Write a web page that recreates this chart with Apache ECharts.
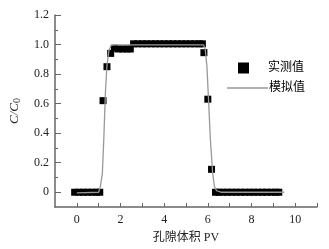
<!DOCTYPE html>
<html><head><meta charset="utf-8">
<script src="https://cdn.jsdelivr.net/npm/echarts@6/dist/echarts.min.js"></script>
<style>html,body{margin:0;padding:0;background:#fff}#c{width:329px;height:249px}</style>
</head><body><div id="c"></div>
<script>
// Measured data (实测值)
const measuredLow = [[-0.1,0],[0.1,0],[0.3,0],[0.5,0],[0.7,0],[0.9,0],[1.05,0]];
const measuredRise = [[1.2,0.62],[1.38,0.85],[1.55,0.94],[1.72,0.975],[1.9,0.97],[2.1,0.97],[2.3,0.97],[2.45,0.97]];
const measuredTop = [[2.6,1.005],[2.8,1.005],[3.0,1.005],[3.2,1.005],[3.4,1.005],[3.6,1.005],[3.8,1.005],[4.0,1.005],[4.2,1.005],[4.4,1.005],[4.6,1.005],[4.8,1.005],[5.0,1.005],[5.2,1.005],[5.4,1.005],[5.6,1.005],[5.75,1.005]];
const measuredFall = [[5.82,0.945],[6.0,0.63],[6.17,0.155]];
const measuredTail = [[6.35,0],[6.5,0],[6.7,0],[6.9,0],[7.1,0],[7.3,0],[7.5,0],[7.7,0],[7.9,0],[8.1,0],[8.3,0],[8.5,0],[8.7,0],[8.9,0],[9.1,0],[9.25,0]];
// Simulated curve (模拟值)
const simulated = [[0,-0.005],[1.0,0],[1.08,0.04],[1.17,0.13],[1.24,0.38],[1.31,0.68],[1.38,0.86],[1.47,0.96],[1.57,0.995],[1.7,0.998],[5.8,0.998],[5.88,0.97],[5.96,0.85],[6.04,0.6],[6.12,0.35],[6.22,0.13],[6.3,0.04],[6.4,0.01],[6.6,0],[9.5,0]];
const xLabels = [0,2,4,6,8,10];
const xTicks = [0,1,2,3,4,5,6,7,8,9,10,11];
const yLabels = [0,0.2,0.4,0.6,0.8,1.0,1.2];
const yMinor = [0.1,0.3,0.5,0.7,0.9,1.1];

const measured = [].concat(measuredLow, measuredRise, measuredTop, measuredFall, measuredTail);
const font = "'Liberation Serif','Noto Sans CJK SC',serif";
const axisColor = '#666';
const chart = echarts.init(document.getElementById('c'));
chart.setOption({
  animation: false,
  backgroundColor: '#fff',
  textStyle: {fontFamily: font},
  grid: {left: 50, right: 12, top: 15, bottom: 42},
  legend: [
    {data: [{name:'实测值', icon:'rect'}], left: 233, top: 57, itemWidth: 11, itemHeight: 11,
     textStyle: {fontFamily: font, fontSize: 12, color: '#000', padding: [0,0,0,14]}},
    {data: [{name:'模拟值', icon:'rect'}], left: 222, top: 77, itemWidth: 41, itemHeight: 1.5,
     itemStyle: {color: '#999'},
     textStyle: {fontFamily: font, fontSize: 12, color: '#000', padding: [0,0,0,-4]}}
  ],
  xAxis: {
    type: 'value', min: -1, max: 11, interval: 1,
    name: '孔隙体积 PV', nameLocation: 'middle', nameGap: 25,
    nameTextStyle: {fontFamily: font, fontSize: 12, color: '#222'},
    axisLine: {onZero: false, lineStyle: {color: axisColor, width: 1.5}},
    axisTick: {inside: true, length: 4, customValues: xTicks, lineStyle: {color: axisColor, width: 1}},
    axisLabel: {customValues: xLabels, margin: 7, fontSize: 12, color: '#222', fontFamily: font},
    splitLine: {show: false}
  },
  yAxis: [{
    type: 'value', min: -0.1, max: 1.2, interval: 0.1,
    name: '{i|C/C}{s|0}', nameLocation: 'middle', nameGap: 33, nameRotate: 90,
    nameTextStyle: {fontFamily: font, fontSize: 13, color: '#222',
      rich: {i: {fontStyle: 'italic', fontSize: 13, fontFamily: font, color: '#222'},
             s: {fontSize: 10, fontFamily: font, color: '#222', padding: [5,0,0,0]}}},
    axisLine: {onZero: false, lineStyle: {color: axisColor, width: 1.5}},
    axisTick: {inside: true, length: 6, customValues: yLabels, lineStyle: {color: axisColor, width: 1}},
    axisLabel: {customValues: yLabels, margin: 6, fontSize: 12, color: '#222', fontFamily: font,
      formatter: v => (Math.abs(v) < 1e-9 ? '0' : v.toFixed(1))},
    splitLine: {show: false}
  }, {
    type: 'value', min: -0.1, max: 1.2, interval: 0.1, position: 'left',
    axisLine: {show: false, onZero: false},
    axisTick: {inside: true, length: 3, customValues: yMinor, lineStyle: {color: axisColor, width: 1}},
    axisLabel: {show: false}, splitLine: {show: false}
  }],
  series: [
    {name: '模拟值', type: 'line', data: simulated, showSymbol: false, symbol: 'none',
     lineStyle: {color: '#999', width: 1.3}, itemStyle: {color: '#999'}, z: 3},
    {name: '实测值', type: 'scatter', data: measured, symbol: 'rect', symbolSize: 7,
     itemStyle: {color: '#000', opacity: 1}, z: 2}
  ]
});
</script></body></html>
